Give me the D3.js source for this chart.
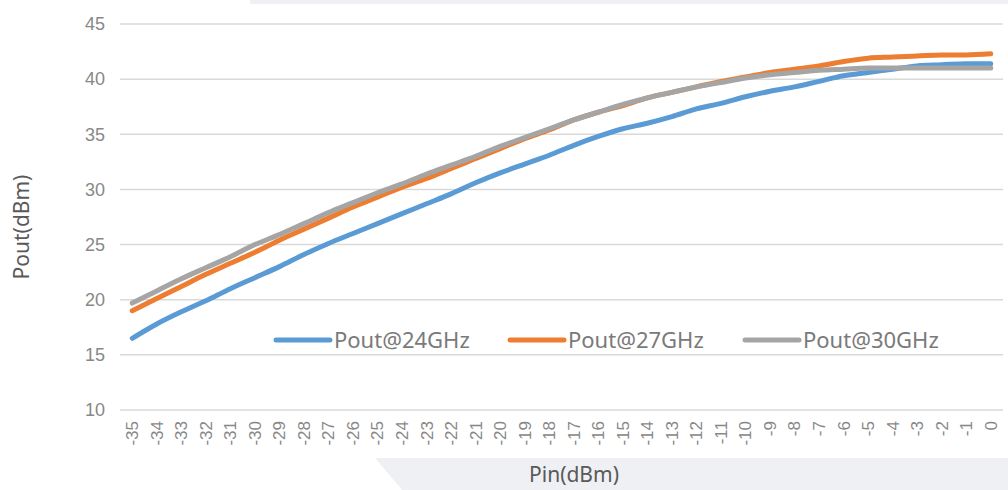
<!DOCTYPE html>
<html>
<head>
<meta charset="utf-8">
<script src="https://cdn.jsdelivr.net/npm/d3@7"></script>
<style>
  body { margin: 0; background: #fff; }
  svg { display: block; font-family: "Noto Sans", "Open Sans", sans-serif; }
</style>
</head>
<body>
<div id="chart"></div>
<script>
// x categories: Pin (dBm)
var pin = d3.range(-35, 1);

// Pout values
var pout24 = [16.5, 17.8, 18.9, 19.9, 21.0, 22.0, 23.0, 24.1, 25.1, 26.0, 26.9, 27.8,
              28.7, 29.6, 30.6, 31.5, 32.3, 33.1, 34.0, 34.8, 35.5, 36.0, 36.6, 37.3,
              37.8, 38.4, 38.9, 39.3, 39.8, 40.3, 40.6, 40.9, 41.2, 41.3, 41.4, 41.4];
var pout27 = [19.0, 20.1, 21.2, 22.3, 23.3, 24.3, 25.4, 26.4, 27.4, 28.4, 29.3, 30.2,
              31.0, 31.9, 32.8, 33.7, 34.6, 35.4, 36.3, 37.0, 37.6, 38.3, 38.8, 39.3,
              39.8, 40.2, 40.6, 40.9, 41.2, 41.6, 41.9, 42.0, 42.1, 42.2, 42.2, 42.3];
var pout30 = [19.7, 20.8, 21.9, 22.9, 23.9, 25.0, 25.9, 26.9, 27.9, 28.8, 29.7, 30.5,
              31.4, 32.2, 33.0, 33.9, 34.7, 35.5, 36.3, 37.0, 37.7, 38.3, 38.8, 39.3,
              39.7, 40.1, 40.4, 40.6, 40.8, 40.9, 41.0, 41.0, 41.0, 41.0, 41.0, 41.0];

var seriesNames = ["Pout@24GHz", "Pout@27GHz", "Pout@30GHz"];
var seriesColors = ["#5b9bd5", "#ed7d31", "#a5a5a5"];
var yTicks = [10, 15, 20, 25, 30, 35, 40, 45];

var width = 1008, height = 490;
var margin = {top: 24, right: 5, bottom: 80, left: 120};

var svg = d3.select("#chart").append("svg")
    .attr("width", width)
    .attr("height", height);

// decorative light panels (top strip, bottom slanted block)
svg.append("rect")
    .attr("x", 250).attr("y", 0)
    .attr("width", width - 250).attr("height", 4)
    .attr("fill", "#eff0f4");
svg.append("path")
    .attr("d", "M375,458 L1008,458 L1008,490 L402,490 Z")
    .attr("fill", "#eff0f4");

var x = d3.scaleBand()
    .domain(pin)
    .range([margin.left, width - margin.right]);

var y = d3.scaleLinear()
    .domain([10, 45])
    .range([height - margin.bottom, margin.top]);

// gridlines
svg.append("g")
    .selectAll("line")
    .data(yTicks)
    .join("line")
    .attr("x1", margin.left)
    .attr("x2", width - margin.right)
    .attr("y1", function(d) { return y(d); })
    .attr("y2", function(d) { return y(d); })
    .attr("stroke", "#d9d9d9")
    .attr("stroke-width", 1.5);

// y axis labels
var yAxis = svg.append("g")
    .attr("transform", "translate(" + margin.left + ",0)")
    .call(d3.axisLeft(y).tickValues(yTicks).tickSize(0).tickPadding(15));
yAxis.select(".domain").remove();
yAxis.selectAll("text")
    .attr("font-size", 18)
    .attr("fill", "#888");

// x axis labels, rotated
var xAxis = svg.append("g")
    .attr("transform", "translate(0," + (height - margin.bottom) + ")")
    .call(d3.axisBottom(x).tickSize(0).tickPadding(0));
xAxis.select(".domain").remove();
xAxis.selectAll("text")
    .attr("font-size", 17)
    .attr("fill", "#888")
    .attr("transform", "rotate(-90)")
    .attr("x", -11)
    .attr("y", 0)
    .attr("dy", "0.35em")
    .attr("text-anchor", "end");

// axis titles
svg.append("text")
    .attr("transform", "translate(29," + 227 + ") rotate(-90)")
    .attr("text-anchor", "middle")
    .attr("font-size", 21)
    .attr("fill", "#595959")
    .text("Pout(dBm)");

svg.append("text")
    .attr("x", 574)
    .attr("y", 482)
    .attr("text-anchor", "middle")
    .attr("font-size", 21)
    .attr("fill", "#595959")
    .text("Pin(dBm)");

// lines
var line = d3.line()
    .x(function(d, i) { return x(pin[i]) + x.bandwidth() / 2; })
    .y(function(d) { return y(d); })
    .curve(d3.curveMonotoneX);

var allSeries = [pout24, pout27, pout30];
svg.append("g")
    .selectAll("path")
    .data(allSeries)
    .join("path")
    .attr("d", line)
    .attr("fill", "none")
    .attr("stroke", function(d, i) { return seriesColors[i]; })
    .attr("stroke-width", 5)
    .attr("stroke-linecap", "round")
    .attr("stroke-linejoin", "round");

// legend
var legendX = [276, 510, 745];
var legend = svg.append("g")
    .selectAll("g")
    .data(seriesNames)
    .join("g")
    .attr("transform", function(d, i) { return "translate(" + legendX[i] + ",340)"; });

legend.append("line")
    .attr("x1", 0).attr("x2", 54)
    .attr("stroke", function(d, i) { return seriesColors[i]; })
    .attr("stroke-width", 5)
    .attr("stroke-linecap", "round");

legend.append("text")
    .attr("x", 58)
    .attr("dy", "0.35em")
    .attr("font-size", 22)
    .attr("fill", "#7a7a7a")
    .text(function(d) { return d; });
</script>
</body>
</html>
